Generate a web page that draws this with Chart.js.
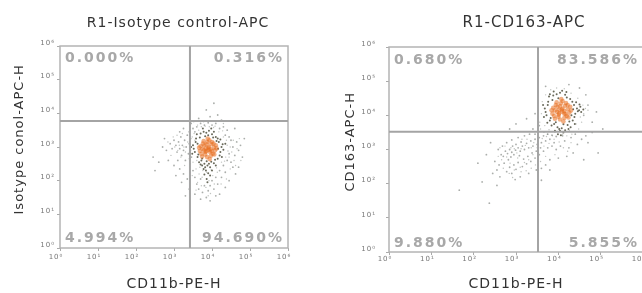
<!DOCTYPE html>
<html>
<head>
<meta charset="utf-8">
<script src="https://cdn.jsdelivr.net/npm/chart.js@4"></script>
<style>
  html, body { margin: 0; padding: 0; background: #fff; }
  #wrap { position: relative; width: 642px; height: 293px; overflow: hidden; }
  #wrap canvas { position: absolute; top: 0; }
</style>
</head>
<body>
<div id="wrap">
  <canvas id="chart1" width="356" height="293" style="left:0"></canvas>
  <canvas id="chart2" width="406" height="293" style="left:321px"></canvas>
</div>
<script>
// axis values are log10 decades, labels drawn as 10^n
var tickText = ['10\u2070', '10\u00b9', '10\u00b2', '10\u00b3', '10\u2074', '10\u2075', '10\u2076'];

var titleL = 'R1-Isotype control-APC';
var titleR = 'R1-CD163-APC';
var xTitle = 'CD11b-PE-H';
var yTitleL = 'Isotype conol-APC-H';
var yTitleR = 'CD163-APC-H';

// quadrant percentages: UL, UR, LL, LR
var quadL = ['0.000%', '0.316%', '4.994%', '94.690%'];
var quadR = ['0.680%', '83.586%', '9.880%', '5.855%'];

// gate positions [x, y] in decades
var gateL = [3.42, 3.77];
var gateR = [3.52, 3.52];

// left plot events (dense core, dark rim, sparse, faint)
var coreL = [[3.90,2.97],[3.80,3.05],[3.98,3.08],[3.85,2.88],[3.95,2.85],[3.75,2.95],[4.05,2.98],[3.88,3.15],[3.70,3.02],[4.02,2.80],[3.82,2.78],[3.93,3.20],[4.10,3.05],[3.68,2.88],[3.78,3.18],[4.08,2.90],[3.87,2.70],[3.97,2.74],[3.72,2.80],[4.00,3.15],[3.84,2.96],[3.92,3.00],[3.79,2.90],[4.04,3.10],[3.66,2.98],[3.91,2.92],[3.86,3.08],[3.96,2.93],[3.76,3.10],[4.12,2.96],[3.83,2.85],[3.99,2.88],[3.89,3.25],[3.74,2.72],[4.06,2.78],[3.94,2.64]];
var ringL = [[3.50,3.05],[3.55,2.85],[3.58,3.25],[3.62,2.70],[3.60,3.38],[3.66,2.55],[3.70,3.40],[3.72,2.60],[3.78,3.45],[3.80,2.50],[3.85,3.42],[3.88,2.45],[3.92,3.48],[3.95,2.40],[4.00,3.38],[4.05,2.52],[4.10,3.30],[4.15,2.65],[4.18,3.15],[4.22,2.85],[4.25,3.00],[4.20,2.75],[4.28,3.08],[4.15,3.25],[3.52,2.95],[3.57,3.15],[3.64,2.78],[3.68,3.28],[3.74,2.66],[3.82,3.32],[3.86,2.58],[3.90,3.35],[3.98,2.56],[4.03,3.28],[4.08,2.62],[4.12,3.18],[4.16,2.95],[3.84,2.30],[3.90,2.22],[3.78,2.35],[3.95,2.15],[3.86,2.05],[3.80,2.18],[4.00,2.30],[3.74,2.45],[4.30,2.92],[4.35,3.10],[3.45,3.00],[3.48,2.80],[4.26,2.70],[3.92,2.50],[3.70,2.48],[4.10,2.45],[3.98,3.55],[3.76,3.55],[4.05,3.45],[3.62,3.10],[4.22,3.22],[3.88,1.95],[3.82,2.40]];
var dustL = [[2.90,3.10],[2.95,2.95],[3.00,3.20],[3.05,3.05],[3.08,2.85],[3.12,3.15],[3.15,2.95],[3.18,3.30],[3.20,2.75],[3.22,3.05],[3.25,2.90],[3.28,3.20],[3.30,2.60],[3.32,3.00],[3.35,3.35],[3.38,2.80],[3.40,3.10],[3.42,2.50],[3.44,3.25],[3.46,2.70],
  [3.10,2.60],[3.00,2.45],[3.15,2.35],[3.25,2.20],[3.05,2.15],[3.35,2.05],[3.20,1.95],[3.50,2.30],[3.55,2.10],[3.60,1.90],
  [3.65,1.75],[3.70,2.05],[3.75,1.65],[3.80,1.85],[3.90,1.70],[3.95,1.85],[4.00,2.00],[4.05,1.75],[4.10,2.10],[4.15,1.90],
  [4.20,2.30],[4.25,2.10],[4.30,2.45],[4.35,2.25],[4.40,2.60],[4.45,2.80],[4.50,2.55],[4.55,3.00],[4.60,2.75],[4.65,3.15],
  [4.70,2.90],[4.75,3.05],[4.80,2.70],[4.45,3.30],[4.40,3.50],[4.35,3.35],[4.50,3.20],[4.30,3.60],[4.20,3.55],[4.10,3.70],
  [4.00,3.65],[3.90,3.72],[3.80,3.65],[3.70,3.70],[3.60,3.60],[3.55,3.45],[3.50,3.55],[3.65,3.85],[3.95,3.90],[4.15,3.95],
  [3.85,4.10],[4.05,4.30],[4.25,3.80],[3.45,3.70],[3.40,3.45],[4.55,2.40],[4.62,2.20],[4.35,1.80],[4.20,1.60],
  [3.85,1.50],[3.70,1.45],[3.55,1.60],[3.40,1.75],[3.30,1.55],[2.80,2.90],[2.75,3.25],[2.85,2.60],[2.70,3.00],[2.60,2.55],
  [2.50,2.30],[2.45,2.70],[3.95,1.40],[4.10,1.55],[4.45,2.00],[4.70,2.40],[4.85,3.25],[4.60,3.55],[3.25,3.55],[3.15,3.45]];
var fineL = [[3.55,3.20],[3.60,2.60],[3.65,3.50],[3.68,2.40],[3.72,3.60],[3.76,2.30],[3.82,3.62],[3.86,2.25],[3.93,3.60],[3.98,2.32],[4.04,3.58],[4.12,2.38],[4.18,3.45],[4.25,2.55],[4.30,3.30],[4.36,2.70],[4.40,3.05],[4.42,2.88],[4.38,3.20],[4.33,2.58],
  [3.48,3.30],[3.44,2.90],[3.40,2.65],[3.36,3.15],[3.50,2.55],[3.53,3.40],[3.58,2.35],[3.62,3.65],[4.45,2.70],[4.48,3.00],
  [4.52,2.85],[4.56,3.20],[4.58,2.60],[4.28,3.48],[4.08,3.62],[3.78,3.75],[3.66,2.20],[3.74,2.10],[3.92,2.00],[4.02,2.15],
  [4.14,2.25],[3.84,1.80],[3.96,1.62],[3.62,1.95],[3.48,2.15],[3.28,2.45],[3.18,2.70],[3.10,2.90],[3.02,3.00],[2.98,3.30],
  [3.08,3.35],[3.22,3.40],[3.30,2.85],[3.26,3.00],[3.14,3.05],[2.92,2.75],[2.84,3.15],[4.66,2.95],[4.72,3.25],[4.76,2.60],
  [4.62,2.45],[4.48,2.35],[4.38,2.05],[4.24,1.90],[4.06,1.90],[3.72,1.85],[3.58,1.72],[3.90,1.55],[4.30,3.70],[3.52,3.75]];

// right plot events
var coreR = [[4.08,4.17],[3.98,4.25],[4.16,4.28],[4.02,4.06],[4.14,4.05],[3.92,4.15],[4.22,4.18],[4.06,4.35],[3.88,4.22],[4.20,3.98],[4.00,3.96],[4.10,4.42],[4.28,4.25],[3.86,4.05],[3.96,4.38],[4.26,4.08],[4.04,3.88],[4.14,3.92],[3.90,3.98],[4.18,4.36],[4.02,4.16],[4.10,4.20],[3.97,4.10],[4.22,4.30],[3.84,4.15],[4.09,4.11],[4.04,4.27],[4.14,4.12],[3.94,4.30],[4.30,4.14],[4.01,4.02],[4.17,4.04],[4.07,4.48],[3.92,3.90],[4.24,3.94],[4.12,3.82]];
var ringR = [[3.68,4.20],[3.72,4.00],[3.76,4.40],[3.80,3.85],[3.78,4.55],[3.84,3.70],[3.88,4.58],[3.90,3.75],[3.96,4.62],[3.98,3.65],[4.04,4.66],[4.08,3.62],[4.16,4.60],[4.22,3.72],[4.28,4.48],[4.34,3.85],[4.37,4.30],[4.40,4.05],[4.44,4.20],[4.38,3.95],[4.46,4.12],[4.33,4.40],[3.70,4.10],[3.75,4.30],[3.82,3.92],[3.86,4.45],[3.94,3.80],[4.00,4.50],[4.12,3.74],[4.20,4.52],[4.26,3.82],[4.31,4.00],[4.35,4.18],[4.49,4.15],[4.54,4.10],[4.59,4.17],[4.52,4.25],[4.04,3.55],[4.12,3.50],[3.99,3.45],[4.16,3.56],[3.92,3.55],[4.24,3.60],[3.64,4.30],[3.74,3.78],[4.42,4.38],[4.29,3.65],[3.89,4.70],[4.09,4.72],[4.02,3.60],[4.19,4.68],[3.80,4.62],[4.39,3.75],[3.66,3.95],[4.50,4.32],[4.06,3.42]];
var dustR = [[2.99,2.98],[2.90,2.92],[3.05,3.05],[2.85,3.00],[2.95,2.85],[3.10,2.95],[2.80,2.88],[3.15,3.10],[2.75,2.95],[3.00,3.15],[3.20,3.00],[2.88,2.78],[3.08,2.82],[2.70,2.80],[3.25,3.18],[2.92,3.10],[3.12,3.22],[2.82,2.70],[3.30,3.05],[2.65,2.85],
  [3.35,3.25],[3.40,3.10],[3.45,3.30],[3.50,3.15],[3.55,3.35],[3.60,3.20],[3.65,3.40],[3.70,3.25],[3.75,3.45],[3.80,3.30],
  [3.85,3.42],[3.90,3.20],[3.58,3.05],[3.48,2.95],[3.38,2.90],[3.28,2.80],[3.18,2.72],[3.05,2.62],[2.95,2.55],[2.85,2.48],
  [2.72,2.60],[2.60,2.55],[2.55,2.40],[2.50,2.65],[2.45,2.30],[2.62,2.20],[2.78,2.35],[2.90,2.30],[3.00,2.42],[3.15,2.50],
  [3.25,2.58],[3.35,2.65],[3.45,2.75],[3.55,2.85],[3.65,2.95],[3.75,3.05],[3.85,3.10],[3.95,3.00],[4.05,3.10],[4.15,3.25],
  [4.25,3.05],[4.35,2.90],[4.45,3.15],[4.20,2.80],[4.00,2.75],[3.80,2.70],[3.70,2.55],[3.60,2.45],[3.48,2.40],[3.30,2.30],
  [3.10,2.20],[2.98,2.12],[3.20,3.40],[3.05,3.35],[2.90,3.28],[2.78,3.20],[2.68,3.10],[2.58,3.00],[3.32,3.45],[3.45,3.45],
  [3.95,3.38],[4.10,3.40],[4.30,3.35],[4.40,3.45],[4.55,3.30],[4.65,3.40],[4.80,3.50],[4.70,3.20],[4.94,2.90],[4.60,2.70],
  [1.66,1.81],[2.37,1.43],[2.20,2.05],[2.10,2.60],[2.30,2.85],[2.40,3.20],[2.85,3.60],[3.00,3.75],[3.25,3.90],[3.45,4.05],
  [3.55,3.70],[3.40,3.60],[4.60,4.00],[4.70,4.30],[4.65,4.60],[4.50,4.80],[4.25,4.90],[3.70,4.85],[4.80,3.80],[4.90,4.10],
  [5.05,3.60],[3.80,2.40],[2.55,1.95],[3.60,2.10]];
var fineR = [[3.60,4.05],[3.62,4.40],[3.68,3.70],[3.70,4.60],[3.78,3.58],[3.82,4.75],[3.92,3.50],[3.96,4.80],[4.10,3.45],[4.14,4.78],[4.26,3.55],[4.30,4.65],[4.42,3.75],[4.46,4.50],[4.52,3.95],[4.58,4.30],[4.60,4.05],[4.64,4.20],[4.70,4.15],[4.55,3.80],
  [3.56,3.80],[3.58,3.60],[3.66,3.50],[3.74,3.45],[3.86,3.40],[4.20,3.40],[4.32,3.45],[4.48,3.60],
  [2.96,3.02],[3.02,2.90],[2.88,3.05],[3.12,3.02],[3.04,2.75],[2.78,2.78],[3.22,3.12],[2.86,2.60],[3.36,3.05],[3.42,3.20],
  [3.52,3.25],[3.62,3.32],[3.72,3.38],[3.50,3.05],[3.40,2.85],[3.30,2.70],[3.20,2.62],[3.10,2.48],[2.96,2.40],[2.84,2.30],
  [2.70,2.45],[2.66,2.70],[2.58,2.80],[2.62,3.05],[2.74,3.10],[3.14,3.30],[3.26,3.30],[3.66,3.10],[3.78,3.18],[3.90,3.30],
  [4.02,3.22],[4.12,3.05],[4.30,3.20],[4.22,2.95],[3.92,2.85],[3.70,2.80],[3.58,2.65],[3.46,2.55],[3.36,2.45],[3.24,2.38],
  [3.12,2.35],[2.92,2.18]];

Chart.defaults.font.family = 'DejaVu Sans';

function pts(arr) {
  return arr.map(function (p) { return { x: p[0], y: p[1] }; });
}

var spacing = {
  id: 'spacing',
  beforeLayout: function (chart) { chart.ctx.letterSpacing = '1px'; },
  beforeDraw: function (chart) { chart.ctx.letterSpacing = '1px'; }
};

// plot title, gate lines, plot frame and quadrant percentages
function quadPlugin(o) {
  return {
    id: 'quad',
    afterDraw: function (chart) {
      var ctx = chart.ctx;
      ctx.save();
      ctx.font = o.titleSize + 'px "DejaVu Sans"';
      ctx.fillStyle = '#333';
      ctx.textAlign = 'center';
      ctx.textBaseline = 'middle';
      ctx.fillText(o.title, chart.width / 2, 23);
      ctx.restore();
    },
    afterDatasetsDraw: function (chart) {
      var ctx = chart.ctx, a = chart.chartArea;
      var gx = chart.scales.x.getPixelForValue(o.gate[0]);
      var gy = chart.scales.y.getPixelForValue(o.gate[1]);
      ctx.save();
      ctx.strokeStyle = '#b4b4b4';
      ctx.lineWidth = 1.5;
      ctx.strokeRect(a.left, a.top, a.right - a.left, a.bottom - a.top);
      ctx.strokeStyle = '#a4a4a4';
      ctx.lineWidth = 2;
      ctx.beginPath();
      ctx.moveTo(gx, a.top); ctx.lineTo(gx, a.bottom);
      ctx.moveTo(a.left, gy); ctx.lineTo(a.right, gy);
      ctx.stroke();

      ctx.font = 'bold 14px "DejaVu Sans"';
      ctx.letterSpacing = '2px';
      ctx.fillStyle = '#a8a8a8';
      ctx.textBaseline = 'middle';
      ctx.textAlign = 'left';
      ctx.fillText(o.quad[0], a.left + 5, a.top + o.qTop);
      ctx.fillText(o.quad[2], a.left + 5, a.bottom - o.qBottom);
      ctx.textAlign = 'right';
      ctx.fillText(o.quad[1], a.right - 4, a.top + o.qTop);
      ctx.fillText(o.quad[3], a.right - 4, a.bottom - o.qBottom);
      ctx.restore();
    }
  };
}

function makeChart(id, o) {
  return new Chart(document.getElementById(id), {
    type: 'scatter',
    data: {
      datasets: [
        { data: pts(o.core), pointRadius: 2.3, pointBorderWidth: 0, backgroundColor: 'rgba(232,112,32,0.55)' },
        { data: pts(o.ring), pointRadius: 1, pointBorderWidth: 0, backgroundColor: 'rgba(55,55,35,0.75)' },
        { data: pts(o.dust), pointRadius: 0.9, pointBorderWidth: 0, backgroundColor: 'rgba(115,120,115,0.6)' },
        { data: pts(o.fine), pointRadius: 0.7, pointBorderWidth: 0, backgroundColor: 'rgba(130,135,130,0.5)' }
      ]
    },
    options: {
      responsive: false,
      animation: false,
      events: [],
      layout: { padding: { top: o.top, right: o.padRight } },
      plugins: {
        legend: { display: false },
        tooltip: { enabled: false },
        title: { display: false }
      },
      scales: {
        x: {
          type: 'linear', min: 0, max: 6,
          afterFit: function (s) { s.height = o.xHeight; },
          ticks: {
            stepSize: 1, autoSkip: false, maxRotation: 0,
            callback: function (v) { return tickText[Math.round(v)]; },
            font: { size: 7 }, color: '#777', padding: o.xTickPad, labelOffset: -4
          },
          grid: { drawOnChartArea: false, tickLength: 3, color: '#aaa' },
          border: { display: false },
          title: { display: true, text: xTitle, color: '#333', font: { size: 14 }, padding: { top: 0, bottom: 0 } }
        },
        y: {
          type: 'linear', min: 0, max: 6,
          afterFit: function (s) { s.width = o.yWidth; },
          ticks: {
            stepSize: 1, autoSkip: false,
            callback: function (v) { return tickText[Math.round(v)]; },
            font: { size: 7 }, color: '#777', padding: o.yTickPad, labelOffset: -3
          },
          grid: { drawOnChartArea: false, tickLength: 3, color: '#aaa' },
          border: { display: false },
          title: { display: true, text: '   ' + o.yTitle, color: '#333', font: { size: 13 }, padding: { top: o.yTitlePad, bottom: 0 } }
        }
      }
    },
    plugins: [spacing, quadPlugin(o)]
  });
}

var chart1 = makeChart('chart1', {
  core: coreL, ring: ringL, dust: dustL, fine: fineL, gate: gateL, quad: quadL,
  title: titleL, titleSize: 14, top: 46,
  yTitle: yTitleL, yTitlePad: 12, yWidth: 60, yTickPad: 2,
  xHeight: 45, xTickPad: 2, padRight: 68, qTop: 12, qBottom: 10
});

var chart2 = makeChart('chart2', {
  core: coreR, ring: ringR, dust: dustR, fine: fineR, gate: gateR, quad: quadR,
  title: titleR, titleSize: 15, top: 47,
  yTitle: yTitleR, yTitlePad: 22, yWidth: 68, yTickPad: 10,
  xHeight: 41, xTickPad: 0, padRight: 84, qTop: 13, qBottom: 9
});
</script>
</body>
</html>
